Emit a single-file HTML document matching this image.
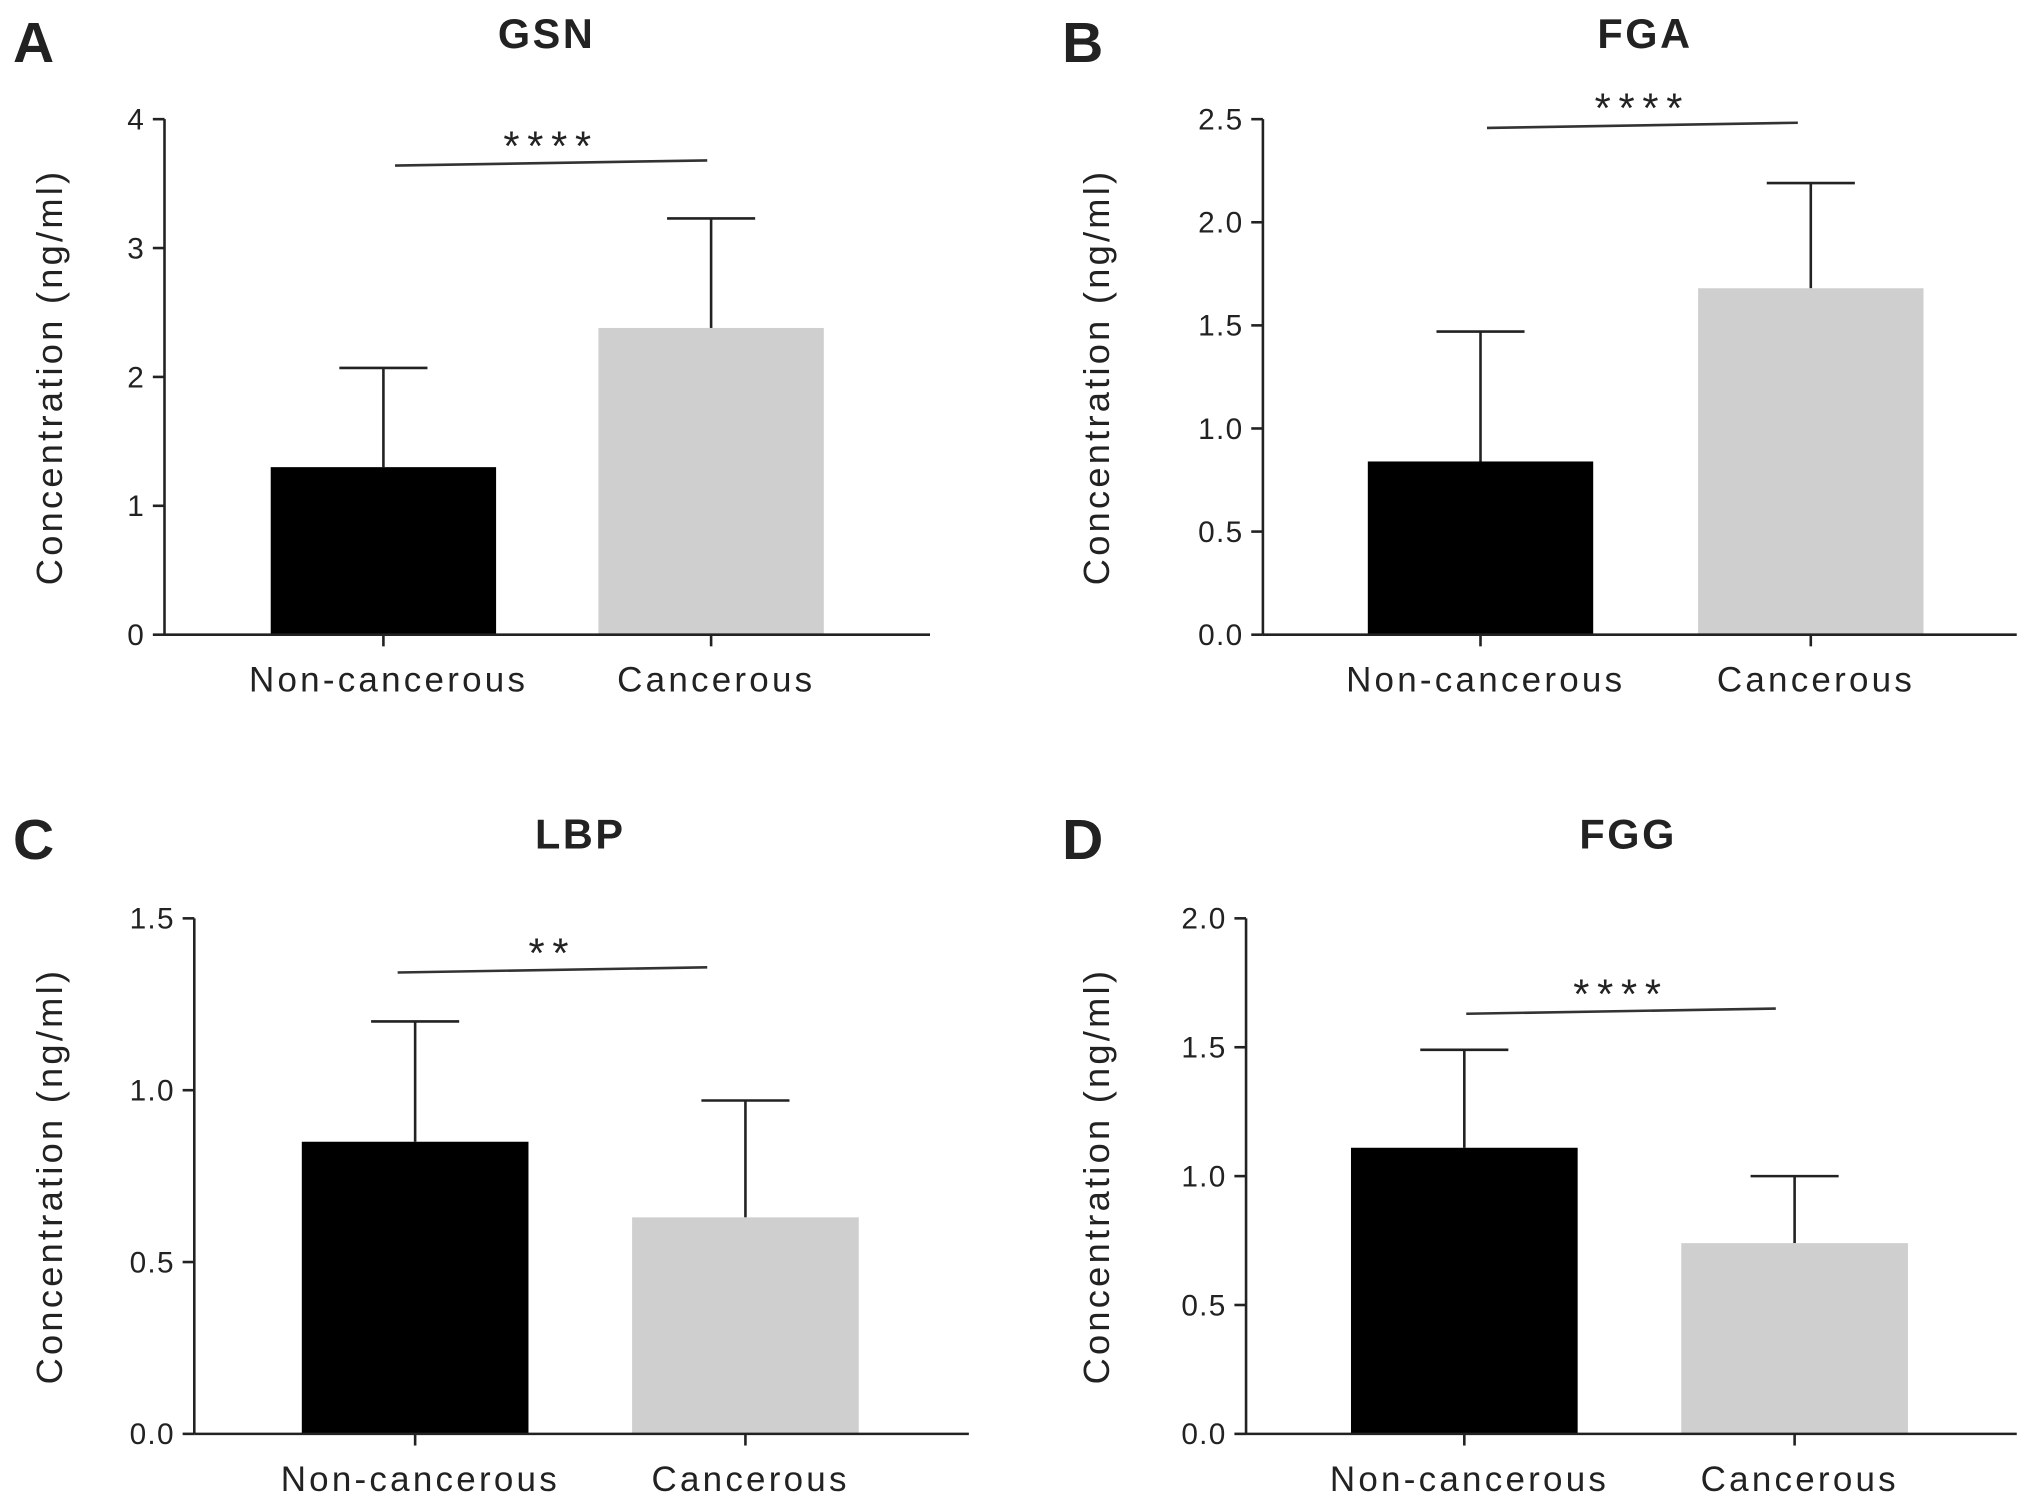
<!DOCTYPE html>
<html><head><meta charset="utf-8"><style>
html,body{margin:0;padding:0;background:#fff;}
svg{display:block;}
text{font-family:"Liberation Sans",sans-serif;fill:#222;}
</style></head><body>
<svg id="chart" width="2031" height="1509" viewBox="0 0 1568 1165" preserveAspectRatio="none" xmlns="http://www.w3.org/2000/svg"></svg>
<script>
const panelLetters = ["A","B","C","D"];
const panelTitles = ["GSN","FGA","LBP","FGG"];
const categories = ["Non-cancerous","Cancerous"];
const meanNon = [1.3, 0.84, 0.85, 1.11];
const meanCan = [2.38, 1.68, 0.63, 0.74];
const errNon = [2.07, 1.47, 1.2, 1.49];
const errCan = [3.23, 2.19, 0.97, 1.0];
const yMax = [4, 2.5, 1.5, 2.0];
const yStep = [1, 0.5, 0.5, 0.5];
const yDecimals = [0, 1, 1, 1];
const sigLabels = ["****","****","**","****"];
const sigLevel = [3.66, 2.47, 1.35, 1.64];

const layout = [
 {ax:127, xr:718, top:92, bot:490, b1:209, b2:462, bw:174, lx:10, ly:48, tx:422, ty:25, sig:[305,546], ytx:38},
 {ax:975, xr:1557, top:92, bot:490, b1:1056, b2:1311, bw:174, lx:820, ly:48, tx:1270, ty:25, sig:[1148,1388], ytx:846},
 {ax:150, xr:748, top:709, bot:1107, b1:233, b2:488, bw:175, lx:10, ly:663, tx:448, ty:643, sig:[307,546], ytx:38},
 {ax:962, xr:1557, top:709, bot:1107, b1:1043, b2:1298, bw:175, lx:820, ly:663, tx:1257, ty:643, sig:[1132,1371], ytx:846}
];
const svg = document.getElementById('chart');
const NS = "http://www.w3.org/2000/svg";
function mk(tag, attrs, parent){const e=document.createElementNS(NS,tag);for(const k in attrs)e.setAttribute(k,attrs[k]);parent.appendChild(e);return e;}

for(let p=0;p<4;p++){
  const L = layout[p];
  const g = mk('g',{},svg);
  
  
  const y = v => L.bot - v/yMax[p]*(L.bot-L.top);
  let t = mk('text',{x:L.lx,y:L.ly,'font-size':44,'font-weight':'bold'},g); t.textContent=panelLetters[p];
   
  t = mk('text',{x:L.tx,y:L.ty+12,'font-size':32,'font-weight':'bold','text-anchor':'middle','letter-spacing':'2'},g); t.textContent=panelTitles[p];
   
  const cy=(L.top+L.bot)/2;
  t = mk('text',{x:L.ytx+10,y:cy,'font-size':28,'text-anchor':'middle',transform:`rotate(-90 ${L.ytx+10} ${cy})`,'letter-spacing':'2.5'},g); t.textContent='Concentration (ng/ml)';
   
  const means=[meanNon[p],meanCan[p]], errs=[errNon[p],errCan[p]], xs=[L.b1,L.b2], cols=['#000','#cfcfcf'];
  for(let i=0;i<2;i++){
    const cx=xs[i]+L.bw/2;
    const ey=y(errs[i]);
    let e=mk('line',{x1:cx,x2:cx,y1:y(means[i]),y2:ey,stroke:'#222','stroke-width':2},g);
     
    e=mk('line',{x1:cx-34,x2:cx+34,y1:ey,y2:ey,stroke:'#222','stroke-width':2},g);
     
    const r=mk('rect',{x:xs[i],y:y(means[i]),width:L.bw,height:L.bot-y(means[i]),fill:cols[i]},g);
     
    const tk=mk('line',{x1:cx,x2:cx,y1:L.bot,y2:L.bot+9,stroke:'#222','stroke-width':2},g);
     
    const lb=mk('text',{x:cx+4,y:L.bot+44,'font-size':27,'text-anchor':'middle','letter-spacing':'2.5'},g); lb.textContent=categories[i];
     
  }
  let a=mk('line',{x1:L.ax,x2:L.ax,y1:L.top,y2:L.bot,stroke:'#222','stroke-width':2},g);
   
  a=mk('line',{x1:L.ax,x2:L.xr,y1:L.bot,y2:L.bot,stroke:'#222','stroke-width':2},g);
   
  for(let v=0; v<=yMax[p]+1e-9; v+=yStep[p]){
    const ty=y(v);
    const tk=mk('line',{x1:L.ax-9,x2:L.ax,y1:ty,y2:ty,stroke:'#222','stroke-width':2},g);
     
    const tl=mk('text',{x:L.ax-15,y:ty+8,'font-size':23,'text-anchor':'end','letter-spacing':'1'},g); tl.textContent=v.toFixed(yDecimals[p]);
     
  }
  const sy=y(sigLevel[p]);
  let s=mk('line',{x1:L.sig[0],x2:L.sig[1],y1:sy+2,y2:sy-2,stroke:'#333','stroke-width':2},g);
   
  s=mk('text',{x:(L.sig[0]+L.sig[1])/2,y:sy-2,'font-size':32,'text-anchor':'middle','letter-spacing':'6'},g); s.textContent=sigLabels[p];
   
}
</script>
</body></html>
